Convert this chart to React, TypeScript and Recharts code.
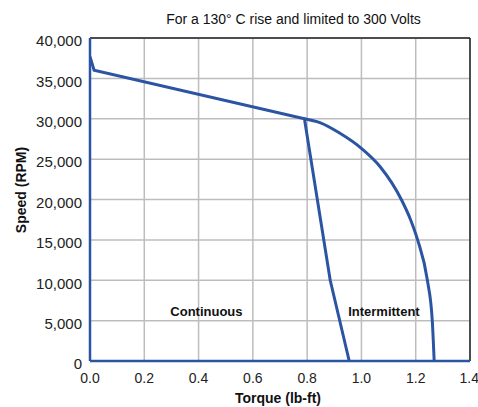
import {
  LineChart,
  Line,
  XAxis,
  YAxis,
  CartesianGrid,
  ReferenceLine,
  ReferenceDot,
} from "recharts";

const torqueTicks = [0, 0.2, 0.4, 0.6, 0.8, 1.0, 1.2, 1.4];
const speedTicks = [0, 5000, 10000, 15000, 20000, 25000, 30000, 35000, 40000];

// continuous operation limit
const continuousTorque = [0, 0.015, 0.79, 0.885, 0.955];
const continuousSpeed = [37700, 36000, 30000, 10000, 0];

// intermittent operation limit
const intermittentTorque = [0.789, 0.847, 0.921, 1.003, 1.069, 1.147, 1.181, 1.207, 1.243, 1.261, 1.268];
const intermittentSpeed = [30000, 29520, 28200, 26250, 24060, 20000, 17500, 15000, 10000, 5000, 0];

const continuousData = continuousTorque.map((t, i) => ({ torque: t, speed: continuousSpeed[i] }));
const intermittentData = intermittentTorque.map((t, i) => ({ torque: t, speed: intermittentSpeed[i] }));

const BLUE = "#2b55a3";
const FONT = "'Liberation Sans', Arial, sans-serif";

export default function App() {
  return (
    <div
      style={{
        width: 478,
        height: 407,
        paddingLeft: 8,
        paddingTop: 8,
        boxSizing: "border-box",
        overflow: "hidden",
        fontFamily: FONT,
      }}
    >
      {/* the chart runs up to the window's right edge, so drop the body margin */}
      <style>{`html, body { margin: 0; overflow: hidden; }`}</style>
      <div style={{ position: "relative", width: 470, height: 399 }}>
        <div
          style={{
            position: "absolute",
            left: 0,
            width: 571,
            top: 3,
            textAlign: "center",
            fontSize: 14,
            color: "#111",
          }}
        >
          For a 130° C rise and limited to 300 Volts
        </div>
        <div
          style={{
            position: "absolute",
            left: 12.5,
            top: 182,
            transform: "translate(-50%, -50%) rotate(-90deg)",
            fontSize: 14,
            fontWeight: "bold",
            whiteSpace: "nowrap",
            color: "#111",
          }}
        >
          Speed (RPM)
        </div>
        <div
          style={{
            position: "absolute",
            left: 270,
            top: 390,
            transform: "translate(-50%, -50%)",
            fontSize: 14,
            fontWeight: "bold",
            whiteSpace: "nowrap",
            color: "#111",
          }}
        >
          Torque (lb-ft)
        </div>
        <LineChart width={470} height={399} margin={{ top: 30, right: 8, bottom: 0, left: 0 }}>
          <CartesianGrid stroke="#bdbdbd" strokeWidth={1.5} />
          <XAxis
            type="number"
            dataKey="torque"
            domain={[0, 1.4]}
            ticks={torqueTicks}
            tickFormatter={(v: number) => v.toFixed(1)}
            allowDataOverflow
            height={46}
            stroke={BLUE}
            strokeWidth={2.5}
            tickLine={false}
            tickSize={6}
            tickMargin={6}
            tick={{ fill: "#222", fontSize: 14, fontFamily: FONT }}
          />
          <YAxis
            type="number"
            dataKey="speed"
            domain={[0, 40000]}
            ticks={speedTicks}
            tickFormatter={(v: number) => v.toLocaleString("en-US")}
            width={82}
            stroke={BLUE}
            strokeWidth={2.5}
            tickLine={false}
            tick={{ fill: "#222", fontSize: 15, fontFamily: FONT, dy: 3 }}
          />
          <ReferenceLine y={40000} stroke="#222" strokeWidth={1.5} />
          <ReferenceLine x={1.4} stroke="#222" strokeWidth={1.5} />
          <Line
            data={continuousData}
            dataKey="speed"
            type="linear"
            stroke={BLUE}
            strokeWidth={3}
            dot={false}
            isAnimationActive={false}
          />
          <Line
            data={intermittentData}
            dataKey="speed"
            type="monotone"
            stroke={BLUE}
            strokeWidth={3}
            dot={false}
            isAnimationActive={false}
          />
          <ReferenceDot
            x={0.429}
            y={6200}
            r={0}
            label={{ value: "Continuous", fill: "#111", fontSize: 13, fontWeight: "bold", fontFamily: FONT }}
          />
          <ReferenceDot
            x={1.083}
            y={6200}
            r={0}
            label={{ value: "Intermittent", fill: "#111", fontSize: 13, fontWeight: "bold", fontFamily: FONT }}
          />
        </LineChart>
      </div>
    </div>
  );
}
